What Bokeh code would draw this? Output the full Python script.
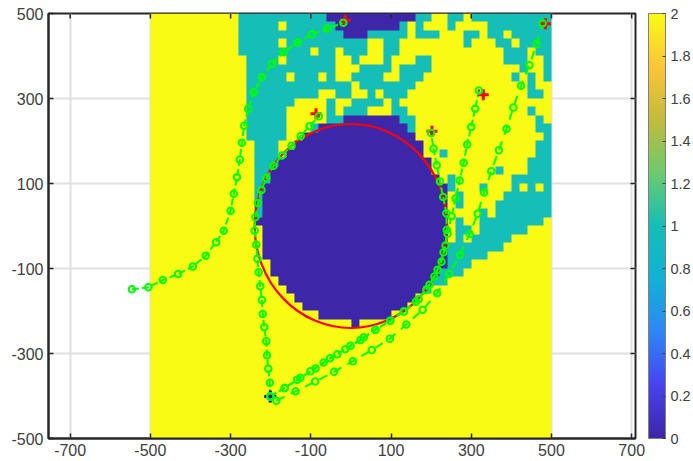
import numpy as np
from bokeh.embed import file_html
from bokeh.resources import INLINE
from bokeh.plotting import figure
from bokeh.models import LinearColorMapper, ColorBar, FixedTicker, Range1d
from bokeh.colors import RGB

# Value of the 50x50 map per row from the top: (first column, value) change points, starting from value 2
grid_rows = [
    [(11,1),(22,0),(33,1),(35,2),(37,1),(39,2),(40,1)],
    [(11,1),(16,2),(17,1),(23,0),(31,1),(32,2),(33,1),(34,2),(37,1),(38,2),(42,1)],
    [(11,1),(24,0),(27,1),(32,2),(33,1),(36,2),(39,1),(41,2),(42,1),(44,2),(45,1)],
    [(11,1),(16,2),(17,1),(27,2),(29,1),(31,2),(39,1),(40,2),(43,1),(45,2),(46,1)],
    [(11,1),(20,2),(21,1),(23,2),(24,1),(27,2),(29,1),(31,2),(44,1),(47,2),(48,1)],
    [(12,1),(16,2),(17,1),(23,2),(25,1),(26,2),(29,1),(30,2),(33,1),(35,2),(44,1),(47,2),(49,1)],
    [(12,1),(23,2),(26,1),(30,2),(31,1),(35,2),(46,1),(47,2),(49,1)],
    [(12,1),(17,2),(18,1),(21,2),(22,1),(23,2),(25,1),(29,2),(31,1),(34,2),(45,1),(46,2),(47,1),(48,2),(49,1)],
    [(12,1),(25,2),(26,1),(33,2),(47,1),(48,2)],
    [(12,1),(21,2),(23,1),(25,2),(27,1),(28,2),(29,1),(32,2),(47,1),(49,2)],
    [(12,1),(18,2),(22,1),(23,2),(25,1),(29,2),(30,1),(31,2)],
    [(12,1),(17,2),(22,1),(23,2),(24,1),(27,2),(30,1),(32,2),(47,1),(48,2)],
    [(12,1),(17,2),(22,1),(24,0),(31,1),(33,2),(48,1),(49,2)],
    [(12,1),(17,2),(20,1),(21,0),(32,1),(33,2),(48,1)],
    [(12,1),(17,2),(19,0),(33,2),(49,1)],
    [(13,1),(16,2),(18,0),(34,2),(48,1)],
    [(13,1),(16,2),(17,0),(34,2),(36,1),(37,2),(48,1)],
    [(13,1),(16,0),(35,2),(47,1)],
    [(13,1),(15,0),(35,2),(43,1),(44,2),(47,1)],
    [(13,1),(15,0),(36,2),(37,1),(38,2),(45,1)],
    [(13,1),(14,0),(37,1),(38,2),(41,1),(42,2),(45,1),(46,2),(47,1),(48,2),(49,1)],
    [(13,1),(14,0),(37,2),(38,1),(39,2),(44,1)],
    [(13,1),(14,0),(37,2),(38,1),(39,2),(43,1)],
    [(13,1),(14,0),(37,2),(41,1),(42,2),(43,1)],
    [(13,0),(37,2),(38,1),(39,2),(41,1),(49,2)],
    [(14,0),(37,2),(38,1),(40,2),(41,1),(47,2)],
    [(14,0),(37,2),(38,1),(39,2),(40,1),(45,2)],
    [(14,0),(37,1),(44,2)],
    [(14,0),(37,1),(42,2)],
    [(15,0),(37,1),(40,2)],
    [(15,0),(36,1),(39,2)],
    [(16,0),(35,1),(37,2)],
    [(17,0),(34,1),(35,2)],
    [(18,0),(33,2)],
    [(19,0),(32,2)],
    [(21,0),(30,2)],
    [(25,0),(26,2)],
] + [[] for _ in range(13)]

t1_x = [-546,-505,-469,-431,-394,-362,-336,-317,-300,-292,-284,-277,-272,-266,-256,-242,-222,-196,-168,-133,-97,-59,-19]
t1_y = [-149,-144,-127,-113,-95,-70,-38,-11,36,76,115,156,196,236,276,315,350,382,409,432,451,465,478]
t2_x = [-201,-202,-206,-209,-211,-216,-220,-222,-226,-230,-233,-236,-240,-238,-232,-223,-211,-193,-172,-148,-125,-103,-80]
t2_y = [-401,-369,-336,-304,-271,-238,-207,-174,-142,-109,-77,-44,-11,21,54,85,113,142,166,189,212,235,258]
t3_x = [-201,-165,-134,-101,-68,-34,-1,32,61,98,132,162,188,208,226,236,239,238,230,222,214,206,200]
t3_y = [-401,-381,-362,-342,-321,-302,-282,-262,-244,-223,-201,-178,-150,-119,-84,-46,-9,30,68,105,143,182,219]
t4_x = [-201,-165,-126,-88,-52,-14,24,61,98,132,169,196,216,231,241,251,261,271,281,290,300,310,319]
t4_y = [-401,-381,-357,-335,-311,-290,-268,-244,-223,-201,-172,-138,-103,-62,-18,23,65,107,149,192,233,276,319]
t5_x = [-186,-138,-89,-42,5,52,97,138,179,215,245,272,296,316,332,350,369,388,405,424,445,463,478]
t5_y = [-411,-389,-366,-343,-318,-292,-265,-232,-197,-158,-113,-68,-19,29,79,129,178,229,279,330,378,428,477]
target_x = [-14,-87,202,330,485]
target_y = [484,264,223,309,476]
start_x = [-201]
start_y = [-401]
circle_radius = 240
x_ticks = [-700,-500,-300,-100,100,300,500,700]
y_ticks = [-500,-300,-100,100,300,500]
cb_ticks = [0,0.2,0.4,0.6,0.8,1,1.2,1.4,1.6,1.8,2]
cb_labels = ["0","0.2","0.4","0.6","0.8","1","1.2","1.4","1.6","1.8","2"]
stops = ["#3E26A8","#4743EF","#2D87F7","#12B1D6","#14BEB8","#6CCB6E","#C0BC3C","#FEC338","#F9FB15"]

grid = np.zeros((50, 50))
for j, row in enumerate(grid_rows):
    v = [2] * 50
    changes = [(0, 2)] + row + [(50, 2)]
    for (a, val), (b, _) in zip(changes[:-1], changes[1:]):
        v[a:b] = [val] * (b - a)
    grid[49 - j] = v

rgb = np.array([[int(c[i:i+2], 16) for i in (1, 3, 5)] for c in stops], float)
pos = np.linspace(0, 1, len(stops))
t = np.linspace(0, 1, 256)
palette = [RGB(*[int(round(np.interp(u, pos, rgb[:, k]))) for k in range(3)]).to_hex() for u in t]
mapper = LinearColorMapper(palette=palette, low=0, high=2)

TEXT = "#404040"
AX = "#262626"
FONT = "Liberation Sans"
X0, X1, Y0, Y1 = -754, 709.5, -500, 500
TX, TY = 12.5, 11.8  # inward tick length in data units (5 px)

p = figure(frame_width=587, frame_height=425, output_backend="svg", toolbar_location=None,
           x_range=Range1d(X0, X1), y_range=Range1d(Y0, Y1),
           min_border_left=48, min_border_top=13, min_border_right=0, min_border_bottom=0,
           background_fill_color="white")
p.image(image=[grid], x=-500, y=-500, dw=1000, dh=1000, color_mapper=mapper)
p.ellipse(x=[0], y=[0], width=[2 * circle_radius], height=[2 * circle_radius],
          fill_color=None, line_color="#FF0000", line_width=2.2)

p.grid.grid_line_color = "#E0E0E0"
p.grid.grid_line_width = 2
p.xgrid.ticker = FixedTicker(ticks=x_ticks)
p.ygrid.ticker = FixedTicker(ticks=y_ticks)

p.xaxis.ticker = FixedTicker(ticks=x_ticks)
p.yaxis.ticker = FixedTicker(ticks=y_ticks)
p.xaxis.major_label_overrides = {v: str(v) for v in x_ticks}
p.yaxis.major_label_overrides = {v: str(v) for v in y_ticks}
for ax in (p.xaxis[0], p.yaxis[0]):
    ax.axis_line_color = AX
    ax.axis_line_width = 2
    ax.major_tick_line_color = AX
    ax.major_tick_line_width = 1.5
    ax.major_tick_in = 5
    ax.major_tick_out = 0
    ax.minor_tick_line_color = None
    ax.major_label_text_color = TEXT
    ax.major_label_text_font = FONT
    ax.major_label_text_font_size = "16px"
p.xaxis.major_label_standoff = 5
p.yaxis.major_label_standoff = 5

p.outline_line_color = AX
p.outline_line_width = 2

# ticks of the right and top sides of the box
p.segment([X1] * len(y_ticks), y_ticks, [X1 - TX] * len(y_ticks), y_ticks, line_color=AX, line_width=1.5)
p.segment(x_ticks, [Y1] * len(x_ticks), x_ticks, [Y1 - TY] * len(x_ticks), line_color=AX, line_width=1.5)

for xs, ys, dash in ((t1_x, t1_y, "7 3"), (t2_x, t2_y, "7 3"), (t3_x, t3_y, "7 3"),
                     (t4_x, t4_y, "7 3"), (t5_x, t5_y, "9 7")):
    p.line(xs, ys, line_color="#00FF00", line_width=2, line_dash=dash)
p.scatter(target_x, target_y, marker="cross", size=11, line_color="#FF0000", line_width=3)
p.scatter(start_x, start_y, marker="cross", size=12, line_color="#0000CC", line_width=3)
for xs, ys in ((t1_x, t1_y), (t2_x, t2_y), (t3_x, t3_y), (t4_x, t4_y), (t5_x, t5_y)):
    p.scatter(xs, ys, marker="circle", size=6.5, fill_color=None, line_color="#00FF00", line_width=2)
    p.scatter(xs[-1:], ys[-1:], marker="circle", size=2.5, fill_color="#C03010", line_color=None)

cb = ColorBar(color_mapper=mapper, ticker=FixedTicker(ticks=cb_ticks), width=17, height=425,
              padding=0, margin=5, location=(13, 0), bar_line_color="#808080", bar_line_width=1,
              major_tick_line_color=TEXT, major_tick_in=3, major_tick_out=0,
              minor_tick_line_color=None, major_label_text_color=TEXT,
              major_label_text_font=FONT, major_label_text_font_size="14.5px", label_standoff=5,
              major_label_overrides=dict(zip(cb_ticks, cb_labels)))
p.add_layout(cb, "right")

open("out.html", "w").write(file_html(p, INLINE))
